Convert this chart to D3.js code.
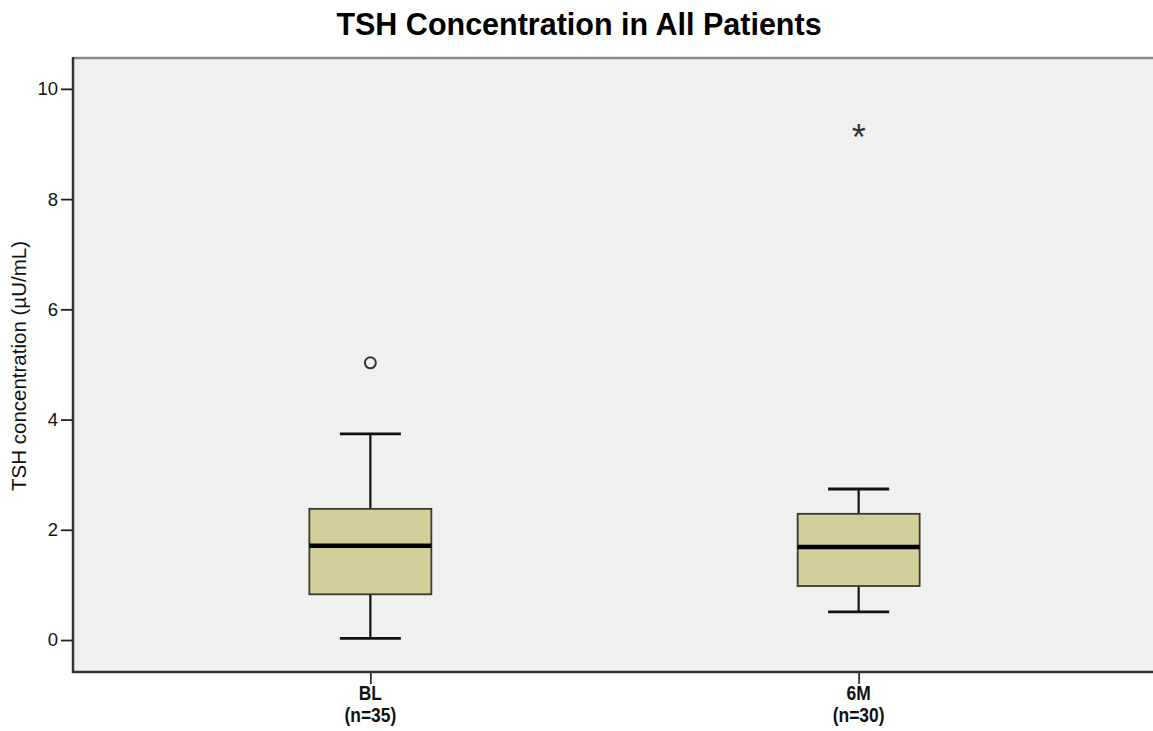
<!DOCTYPE html>
<html>
<head>
<meta charset="utf-8">
<script src="https://cdn.jsdelivr.net/npm/d3@7"></script>
<style>
  html, body { margin: 0; padding: 0; background: #ffffff; }
  svg { display: block; }
</style>
</head>
<body>
<svg id="chart" width="1153" height="731"></svg>
<script>
// Groups and their sample sizes
const groups = ["BL", "6M"];
const groupN = [35, 30];

// Five-number summaries (µU/mL)
const whiskerLow  = [0.03, 0.51];
const quartile1   = [0.83, 0.98];
const medians     = [1.71, 1.69];
const quartile3   = [2.38, 2.29];
const whiskerHigh = [3.74, 2.74];

// Points beyond the whiskers: circle = outlier, star = extreme value
const outlierGroup = ["BL", "6M"];
const outlierValue = [5.03, 9.2];
const outlierKind  = ["outlier", "extreme"];

const yTicks = [0, 2, 4, 6, 8, 10];

const svg = d3.select("#chart");
const plotLeft = 73, plotRight = 1156, plotTop = 58, plotBottom = 672;
const sans = "Liberation Sans, Arial, sans-serif";

const x = d3.scalePoint().domain(groups).range([plotLeft, plotRight]).padding(0.609);
const y = d3.scaleLinear().domain([-0.58, 10.56]).range([plotBottom, plotTop]);

// Plot background
svg.append("rect")
  .attr("x", plotLeft).attr("y", plotTop)
  .attr("width", plotRight - plotLeft).attr("height", plotBottom - plotTop)
  .attr("fill", "#f0f0f0");

// Top frame line
svg.append("line")
  .attr("x1", plotLeft).attr("x2", plotRight).attr("y1", plotTop).attr("y2", plotTop)
  .attr("stroke", "#8a8a8a").attr("stroke-width", 2.5);

// Title
svg.append("text")
  .attr("x", 579).attr("y", 35)
  .attr("text-anchor", "middle")
  .attr("font-family", sans)
  .attr("font-weight", "bold")
  .attr("font-size", 30.5)
  .attr("fill", "#000")
  .text("TSH Concentration in All Patients");

// Y axis
const yAxis = d3.axisLeft(y).tickValues(yTicks).tickSize(12).tickPadding(3);
const gy = svg.append("g").attr("transform", `translate(${plotLeft},0)`).call(yAxis);
gy.select(".domain").remove();
gy.selectAll(".tick line").attr("stroke", "#222").attr("stroke-width", 1.8);
gy.selectAll(".tick text")
  .attr("font-family", sans)
  .attr("font-size", 18.5).attr("fill", "#111");
svg.append("line")
  .attr("x1", plotLeft).attr("x2", plotLeft).attr("y1", plotTop - 1).attr("y2", plotBottom + 1)
  .attr("stroke", "#333").attr("stroke-width", 2.5);

// Y axis title
svg.append("text")
  .attr("transform", `translate(26, 366) rotate(-90)`)
  .attr("text-anchor", "middle")
  .attr("font-family", sans)
  .attr("font-size", 20.5)
  .attr("fill", "#111")
  .text("TSH concentration (µU/mL)");

// X axis
const xAxis = d3.axisBottom(x).tickSize(12).tickFormat("");
const gx = svg.append("g").attr("transform", `translate(0,${plotBottom})`).call(xAxis);
gx.select(".domain").remove();
gx.selectAll(".tick line").attr("stroke", "#333").attr("stroke-width", 1.8);
svg.append("line")
  .attr("x1", plotLeft - 1).attr("x2", plotRight).attr("y1", plotBottom).attr("y2", plotBottom)
  .attr("stroke", "#333").attr("stroke-width", 2.5);

// Category labels in a condensed bold face
const xLabels = svg.append("g");
groups.forEach((g, i) => {
  const t = xLabels.append("text")
    .attr("transform", `translate(${x(g)},700) scale(0.85,1)`)
    .attr("text-anchor", "middle")
    .attr("font-family", sans)
    .attr("font-weight", "bold")
    .attr("font-size", 20.5)
    .attr("fill", "#111");
  t.append("tspan").attr("x", 0).attr("y", 0).text(g);
  t.append("tspan").attr("x", 0).attr("y", 22).text(`(n=${groupN[i]})`);
});

// Boxes
const boxW = 122, capW = 61;
const boxes = svg.append("g");
groups.forEach((g, i) => {
  const cx = x(g);
  const b = boxes.append("g");
  // whisker stems
  b.append("line").attr("x1", cx).attr("x2", cx)
    .attr("y1", y(whiskerHigh[i])).attr("y2", y(quartile3[i]))
    .attr("stroke", "#111").attr("stroke-width", 2.2);
  b.append("line").attr("x1", cx).attr("x2", cx)
    .attr("y1", y(quartile1[i])).attr("y2", y(whiskerLow[i]))
    .attr("stroke", "#111").attr("stroke-width", 2.2);
  // caps
  [whiskerHigh[i], whiskerLow[i]].forEach(v => {
    b.append("line").attr("x1", cx - capW / 2).attr("x2", cx + capW / 2)
      .attr("y1", y(v)).attr("y2", y(v))
      .attr("stroke", "#111").attr("stroke-width", 2.8);
  });
  // box
  b.append("rect")
    .attr("x", cx - boxW / 2).attr("y", y(quartile3[i]))
    .attr("width", boxW).attr("height", y(quartile1[i]) - y(quartile3[i]))
    .attr("fill", "#d4cf9a").attr("stroke", "#3a3a30").attr("stroke-width", 1.8);
  // median
  b.append("line").attr("x1", cx - boxW / 2).attr("x2", cx + boxW / 2)
    .attr("y1", y(medians[i])).attr("y2", y(medians[i]))
    .attr("stroke", "#000").attr("stroke-width", 4.5);
});

// Outliers and extremes
const pts = svg.append("g");
outlierValue.forEach((v, i) => {
  const cx = x(outlierGroup[i]), cy = y(v);
  if (outlierKind[i] === "outlier") {
    pts.append("circle").attr("cx", cx).attr("cy", cy).attr("r", 5.5)
      .attr("fill", "none").attr("stroke", "#333").attr("stroke-width", 2);
  } else {
    pts.append("text").attr("x", cx).attr("y", cy + 17)
      .attr("text-anchor", "middle")
      .attr("font-family", sans)
      .attr("font-size", 36).attr("fill", "#333")
      .text("*");
  }
});
</script>
</body>
</html>
